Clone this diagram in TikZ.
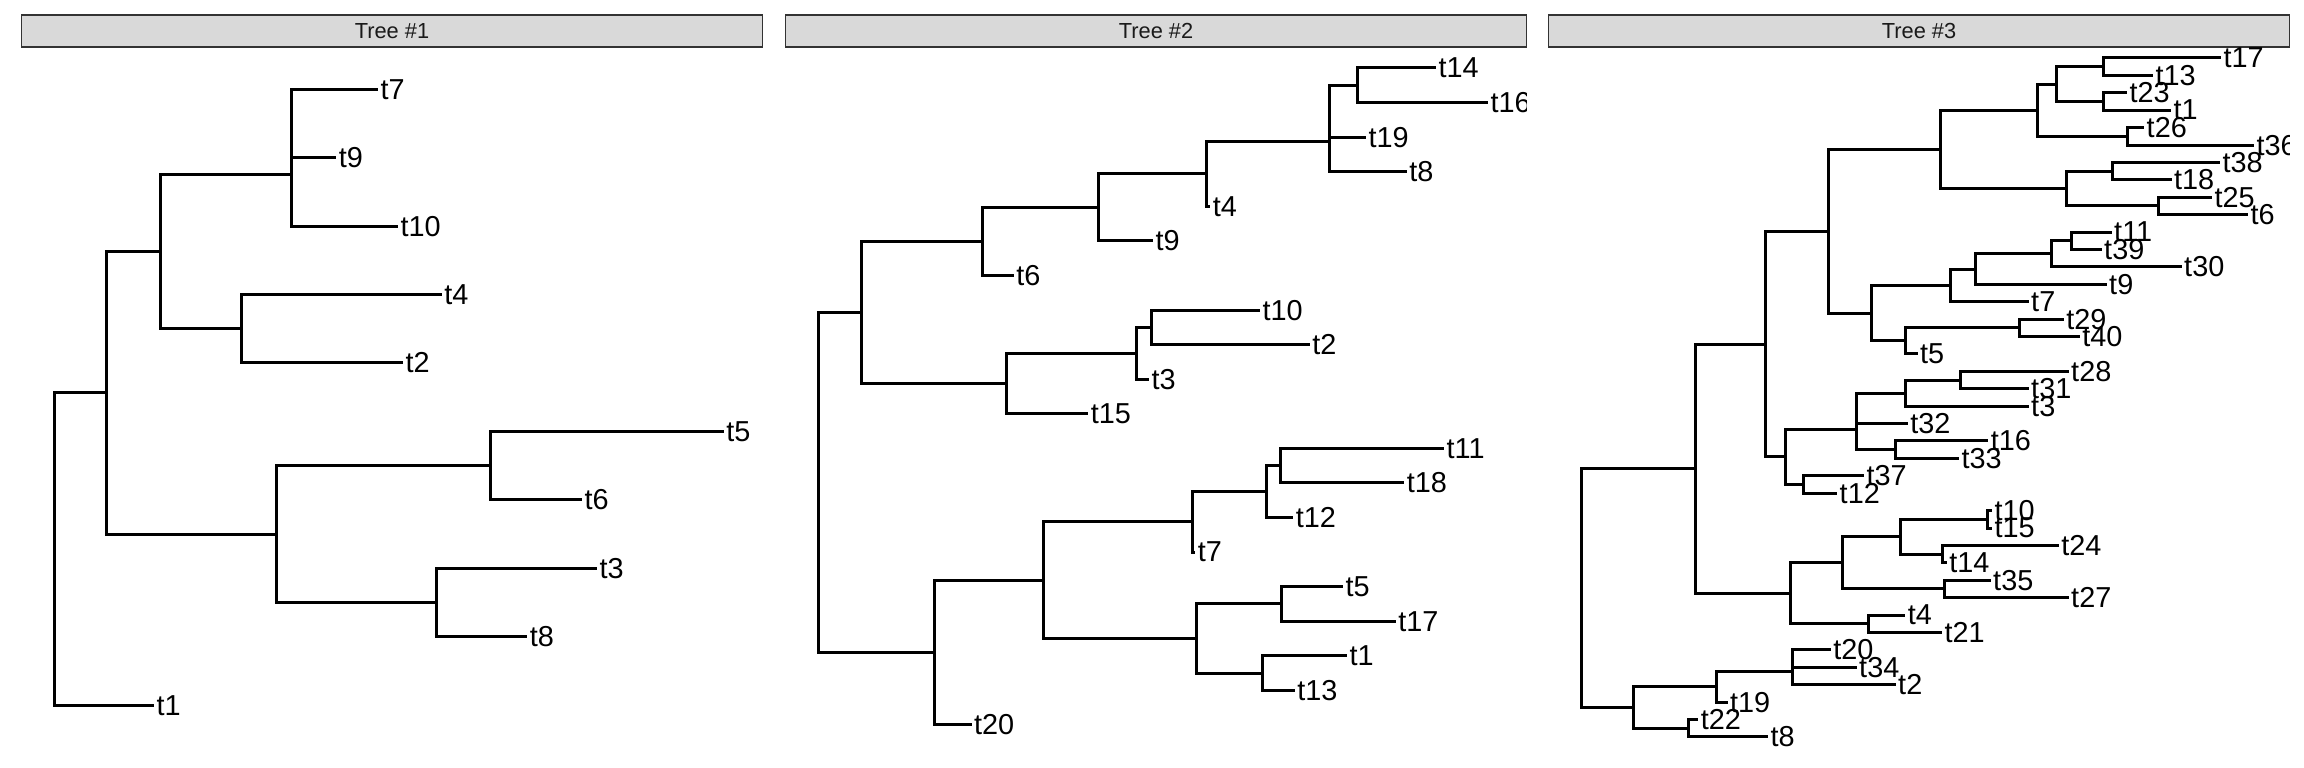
\documentclass[tikz,border=0pt]{standalone}
\usepackage{fontspec}
\newfontfamily\treefont{Liberation Sans}
\definecolor{stripfill}{HTML}{D9D9D9}
\definecolor{stripline}{HTML}{333333}
\definecolor{striptext}{HTML}{1A1A1A}

\begin{document}
\begin{tikzpicture}[x=0.01cm,y=-0.01cm,
  branch/.style={line width=0.03cm},
  tip/.style={anchor=west,inner xsep=0.025cm,inner ysep=0pt,outer sep=0pt,
    font={\treefont\fontsize{8.2pt}{9pt}\selectfont}},
  strip/.style={draw=stripline,fill=stripfill,line width=0.013cm,
    minimum width=7.4cm,minimum height=0.32cm,inner sep=0pt,outer sep=0pt,
    text=striptext,font={\treefont\fontsize{6.2pt}{7pt}\selectfont}}]
\useasboundingbox (0,0) rectangle (2304,768);

\node[strip] (s1) at (392,31) {Tree \#1};
\node[strip] (s2) at (1156,31) {Tree \#2};
\node[strip] (s3) at (1919,31) {Tree \#3};

\begin{scope}
\clip (22,47) rectangle (762,768);
\foreach \n/\x/\y in {t7/378.1/89.3, t9/336.3/157.7, t10/398/226.1, t4/441.8/294.6,
  t2/403/363.0, t5/723.9/431.4, t6/582.1/499.9, t3/597/568.3, t8/527.4/636.8, t1/154.2/705.2}
  \node[tip] (a-\n) at (\x,\y) {\n};
\foreach \n/\x/\y in {r/54.7/549.1, n1/106/393, n2/160.7/251.8, n3/291/174.8, n4/291/123.5,
  n5/241.3/328.8, n6/276.1/534.1, n7/490/465.7, n8/436.3/602.6}
  \coordinate (a-\n) at (\x,\y);
\foreach \p/\c in {r/n1, r/t1, n1/n2, n1/n6, n2/n3, n2/n5, n3/n4, n3/t10, n4/t7, n4/t9,
  n5/t4, n5/t2, n6/n7, n6/n8, n7/t5, n7/t6, n8/t3, n8/t8}
  \draw[branch] (a-\p) |- (a-\c);
\end{scope}

\begin{scope}
\clip (786,47) rectangle (1526,768);
\foreach \n/\x/\y in {t14/1436/68, t16/1488/102.6, t19/1366/137.2, t8/1406.8/171.7,
  t4/1210.3/206.3, t9/1153.1/240.9, t6/1013.8/275.5, t10/1260/310.1, t2/1309.8/344.6,
  t3/1149.1/379.2, t15/1088.4/413.8, t11/1444.1/448.4, t18/1404.3/483, t12/1293.4/517.5,
  t7/1195.4/552.1, t5/1343.1/586.7, t17/1395.9/621.3, t1/1347.1/655.9, t13/1294.9/690.4,
  t20/971.5/725}
  \node[tip] (b-\n) at (\x,\y) {\n};
\foreach \n/\x/\y in {r/818.3/482.6, n1/861/312.5, n2/982.4/241.4, n3/1098.4/207.4,
  n4/1206.8/173.9, n5/1329.7/141.5, n6/1329.7/111.2, n7/1357.1/85.3, n8/1006.3/383.5,
  n9/1136.7/353.3, n10/1151.6/327.4, n11/934.2/652.6, n12/1043.6/580.2, n13/1192.9/521.9,
  n14/1266.5/491.6, n15/1280/465.7, n16/1196.9/638.6, n17/1281/604, n18/1262.5/673.2}
  \coordinate (b-\n) at (\x,\y);
\foreach \p/\c in {r/n1, r/n11, n1/n2, n1/n8, n2/n3, n2/t6, n3/n4, n3/t9, n4/n5, n4/t4,
  n5/n6, n5/t8, n6/n7, n6/t19, n7/t14, n7/t16, n8/n9, n8/t15, n9/n10, n9/t3, n10/t10,
  n10/t2, n11/n12, n11/t20, n12/n13, n12/n16, n13/n14, n13/t7, n14/n15, n14/t12,
  n15/t11, n15/t18, n16/n17, n16/n18, n17/t5, n17/t17, n18/t1, n18/t13}
  \draw[branch] (b-\p) |- (b-\c);
\end{scope}

\begin{scope}
\clip (1549,47) rectangle (2289,768);
\foreach \n/\x/\y in {t17/2221/58.0, t13/2153/75.4, t23/2127.1/92.8, t1/2171/110.2,
  t26/2144.2/127.6, t36/2254/145.1, t38/2220/162.5, t18/2171.5/179.9, t25/2212/197.3,
  t6/2248/214.7, t11/2111.7/232.1, t39/2101.7/249.5, t30/2181.7/266.9, t9/2106.7/284.3,
  t7/2028.7/301.7, t29/2063.8/319.2, t40/2079.9/336.6, t5/1917.6/354.0, t28/2068.7/371.4,
  t31/2028.7/388.8, t3/2028.7/406.2, t32/1907.9/423.6, t16/1988.3/441.0, t33/1959/458.4,
  t37/1864/475.8, t12/1837.2/493.3, t10/1992/510.7, t15/1992/528.1, t24/2058.9/545.5,
  t14/1946.8/562.9, t35/1990.7/580.3, t27/2068.7/597.7, t4/1905.4/615.1, t21/1942/632.5,
  t20/1830.9/649.9, t34/1856.7/667.3, t2/1895.7/684.7, t19/1727.6/702.2, t22/1698.3/719.6,
  t8/1768/737.0}
  \node[tip] (c-\n) at (\x,\y) {\n};
\foreach \n/\x/\y in {r/1581.4/588.15, n1/1695.9/468.7, n2/1765.1/344.05, n3/1828.4/231.3,
  a9/1940.5/149.4, a5/2037/110.2, a3/2056.5/84.1, a1/2103.7/66.7, a2/2103.7/101.5,
  a4/2127.1/136.35, a8/2066.2/188.6, a6/2112.5/171.2, a7/2158.8/206.0, c7/1871.3/313.2,
  c4/1950.7/285.4, c3/1975.1/269.1, c2/2051.7/253.85, c1/2071.7/240.8, c6/1905.4/340.95,
  c5/2019/327.9, d7/1785.1/456.8, d4/1856.7/429.05, d3/1856.7/408.4, d2/1905.4/393.15,
  d1/1960/380.1, d5/1895.7/449.7, d6/1803.1/484.55, e7/1790/593.35, e5/1842.1/562.9,
  e3/1900.5/536.8, e1/1987.3/519.4, e2/1942/554.2, e4/1944.4/589.0, e6/1868.9/623.8,
  f4/1633.5/707.6, f2/1716.9/686.9, f1/1792.4/671.65, f0/1792.4/658.6, f3/1688.6/728.3}
  \coordinate (c-\n) at (\x,\y);
\foreach \p/\c in {r/n1, r/f4, n1/n2, n1/e7, n2/n3, n2/d7, n3/a9, n3/c7, a9/a5, a9/a8,
  a5/a3, a5/a4, a3/a1, a3/a2, a1/t17, a1/t13, a2/t23, a2/t1, a4/t26, a4/t36, a8/a6,
  a8/a7, a6/t38, a6/t18, a7/t25, a7/t6, c7/c4, c7/c6, c4/c3, c4/t7, c3/c2, c3/t9,
  c2/c1, c2/t30, c1/t11, c1/t39, c6/c5, c6/t5, c5/t29, c5/t40, d7/d4, d7/d6, d4/d3,
  d4/d5, d3/d2, d3/t32, d2/d1, d2/t3, d1/t28, d1/t31, d5/t16, d5/t33, d6/t37, d6/t12,
  e7/e5, e7/e6, e5/e3, e5/e4, e3/e1, e3/e2, e1/t10, e1/t15, e2/t24, e2/t14, e4/t35,
  e4/t27, e6/t4, e6/t21, f4/f2, f4/f3, f2/f1, f2/t19, f1/f0, f1/t2, f0/t20, f0/t34,
  f3/t22, f3/t8}
  \draw[branch] (c-\p) |- (c-\c);
\end{scope}
\end{tikzpicture}
\end{document}
